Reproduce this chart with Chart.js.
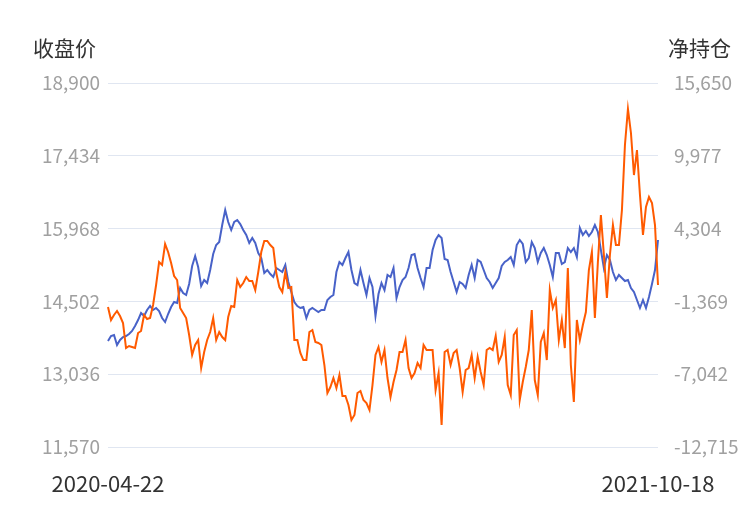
<!DOCTYPE html>
<html lang="zh">
<head>
<meta charset="utf-8">
<title>收盘价 / 净持仓</title>
<script src="https://cdn.jsdelivr.net/npm/chart.js@4.4.1/dist/chart.umd.min.js"></script>
<style>
    html, body { margin: 0; padding: 0; background: #fff; }
    #wrap { width: 750px; height: 510px; }
</style>
</head>
<body>
<div id="wrap"><canvas id="chart" width="750" height="510"></canvas></div>
<script>
'use strict';

// 日期范围（只显示首尾）
const startDate = '2020-04-22';
const endDate = '2021-10-18';

// 收盘价（左轴）
const closePrice = [
    13705, 13805, 13825, 13624, 13725, 13785, 13805, 13845, 13906, 14006,
    14127, 14268, 14208, 14329, 14409, 14329, 14369, 14309, 14168, 14087,
    14248, 14389, 14490, 14470, 14772, 14671, 14631, 14852, 15215, 15416,
    15195, 14812, 14933, 14872, 15134, 15456, 15637, 15698, 16040, 16342,
    16101, 15940, 16101, 16141, 16060, 15940, 15839, 15678, 15778, 15678,
    15477, 15376, 15074, 15134, 15054, 14993, 15174, 15134, 15094, 15235,
    14893, 14691, 14490, 14409, 14369, 14389, 14168, 14329, 14369, 14329,
    14288, 14329, 14329, 14530, 14591, 14631, 15094, 15295, 15235, 15376,
    15497, 15134, 14872, 14832, 15134, 14872, 14631, 14973, 14792, 14208,
    14651, 14872, 14731, 15034, 14993, 15174, 14570, 14792, 14933, 14993,
    15174, 15436, 15456, 15174, 14973, 14792, 15174, 15174, 15537, 15738,
    15839, 15778, 15356, 15336, 15094, 14893, 14691, 14893, 14852, 14772,
    15034, 15235, 14973, 15336, 15295, 15134, 14973, 14893, 14772, 14872,
    14973, 15215, 15295, 15336, 15396, 15235, 15637, 15738, 15658, 15295,
    15376, 15698, 15577, 15295, 15477, 15577, 15436, 15235, 14993, 15477,
    15477, 15255, 15295, 15577, 15497, 15577, 15396, 15980, 15839, 15920,
    15819, 15900, 16040, 15900, 15537, 15174, 15436, 15336, 15094, 14933,
    15034, 14973, 14913, 14933, 14772, 14691, 14530, 14369, 14530, 14369,
    14591, 14852, 15134, 15738
];

// 净持仓（右轴）
const netPosition = [
    -1807, -2820, -2430, -2118, -2508, -3053, -5002, -4846, -4924, -5002,
    -3833, -3677, -2430, -2742, -2664, -1651, -92, 1700, 1467, 3103,
    2480, 1622, 609, 298, -1884, -2274, -2664, -3989, -5547, -4768,
    -4378, -6560, -5313, -4378, -3755, -2664, -4378, -3755, -4144, -4378,
    -2586, -1729, -1807, 298, -248, 64, 531, 220, 220, -482,
    921, 2480, 3337, 3337, 3025, 2791, 843, -248, -638, 921,
    -326, -248, -4378, -4378, -5391, -5937, -5937, -3755, -3599, -4534,
    -4612, -4768, -6326, -8508, -8041, -7340, -8119, -7106, -8742, -8742,
    -9444, -10613, -10223, -8508, -8353, -9054, -9288, -9833, -7885, -5547,
    -4924, -6093, -5158, -7340, -8820, -7651, -6716, -5313, -5313, -4378,
    -6560, -7340, -6950, -6171, -6560, -4768, -5158, -5158, -5158, -8275,
    -6950, -11002, -5313, -5158, -6326, -5391, -5158, -6560, -8431, -6716,
    -6560, -5547, -7340, -5703, -6872, -7885, -5158, -5002, -5158, -4066,
    -6093, -5547, -4144, -7885, -8664, -3989, -3599, -9054, -7651, -6482,
    -5158, -2040, -7495, -8664, -4534, -3833, -5937, -482, -1884, -1261,
    -4378, -2820, -5002, 1233, -6326, -9210, -2820, -4378, -3209, -2196,
    1077, 2480, -2664, 1700, 5363, 2246, -1105, 2246, 4584, 3025,
    3025, 5753, 10818, 13624, 11754, 8480, 10429, 6922, 3804, 5986,
    6766, 6298, 4584, -92
];

// 刻度
const leftTicks = [11570, 13036, 14502, 15968, 17434, 18900];
const rightTicks = [-12715, -7042, -1369, 4304, 9977, 15650];

const labels = closePrice.map((_, i) =>
    i === 0 ? startDate : (i === closePrice.length - 1 ? endDate : ''));

const FONT = '"Noto Sans CJK SC", "Noto Sans", sans-serif';
const fmt = v => Number(v).toLocaleString('en-US');

// 顶部轴名称
const axisNames = {
    id: 'axisNames',
    afterDraw(chart) {
        const { ctx, chartArea } = chart;
        ctx.save();
        ctx.font = '21px ' + FONT;
        ctx.fillStyle = '#333';
        ctx.textBaseline = 'middle';
        ctx.textAlign = 'left';
        ctx.fillText('收盘价', 33, chartArea.top - 35);
        ctx.textAlign = 'right';
        ctx.fillText('净持仓', 731, chartArea.top - 35);
        ctx.restore();
    }
};

new Chart(document.getElementById('chart'), {
    type: 'line',
    data: {
        labels: labels,
        datasets: [
            {
                label: '收盘价',
                data: closePrice,
                yAxisID: 'yLeft',
                borderColor: '#4862c8',
                borderWidth: 2,
                pointRadius: 0,
                tension: 0,
                order: 1
            },
            {
                label: '净持仓',
                data: netPosition,
                yAxisID: 'yRight',
                borderColor: '#ff5a00',
                borderWidth: 2,
                pointRadius: 0,
                tension: 0,
                order: 0
            }
        ]
    },
    options: {
        responsive: false,
        animation: false,
        devicePixelRatio: 1,
        layout: { padding: { top: 83, left: 0, right: 0, bottom: 0 } },
        plugins: {
            legend: { display: false },
            tooltip: { enabled: false }
        },
        scales: {
            x: {
                grid: { display: false },
                border: { display: false },
                ticks: {
                    autoSkip: false,
                    maxRotation: 0,
                    padding: 15,
                    color: '#333',
                    font: { family: FONT, size: 22 },
                    callback: (v, i) => labels[i]
                },
                afterFit: s => { s.height = 63; }
            },
            yLeft: {
                position: 'left',
                min: leftTicks[0],
                max: leftTicks[leftTicks.length - 1],
                afterBuildTicks: s => { s.ticks = leftTicks.map(v => ({ value: v })); },
                afterFit: s => { s.width = 108; },
                grid: { color: '#e0e6f1', drawTicks: false },
                border: { display: false },
                ticks: {
                    padding: 8,
                    color: '#a0a0a0',
                    font: { family: FONT, size: 19 },
                    callback: fmt
                }
            },
            yRight: {
                position: 'right',
                min: rightTicks[0],
                max: rightTicks[rightTicks.length - 1],
                afterBuildTicks: s => { s.ticks = rightTicks.map(v => ({ value: v })); },
                afterFit: s => { s.width = 92; },
                grid: { display: false },
                border: { display: false },
                ticks: {
                    padding: 8,
                    color: '#a0a0a0',
                    font: { family: FONT, size: 19 },
                    callback: fmt
                }
            }
        }
    },
    plugins: [axisNames]
});
</script>
</body>
</html>
